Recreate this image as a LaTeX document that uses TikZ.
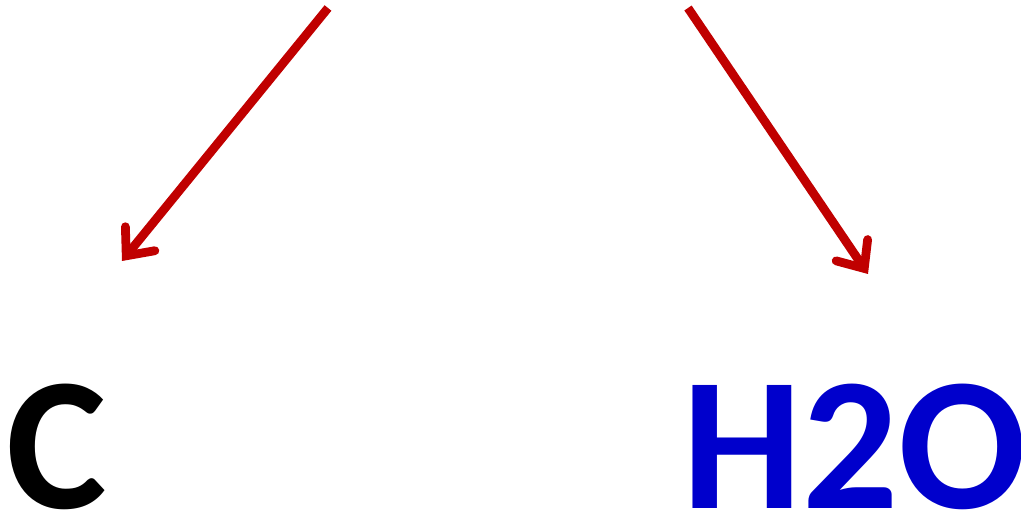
\documentclass[tikz,border=0pt]{standalone}
\usepackage{fontspec}
\setmainfont{Carlito}
\usetikzlibrary{arrows.meta, positioning}
\definecolor{arrowred}{RGB}{192,0,0}
\definecolor{waterblue}{RGB}{0,0,204}

\begin{document}
\begin{tikzpicture}[>={Straight Barb[length=0.22cm, width=0.38cm, line cap=round]},
      formula/.style={inner sep=0pt, anchor=base west, font=\fontsize{54}{54}\selectfont\bfseries},
      arr/.style={->, line width=2.5pt, arrowred}]
    \useasboundingbox (0,0) rectangle (10.21,5.11);
    \node[formula] (carbon) at (0.06,0.02) {C};
    \node[formula, text=waterblue] (water) at (6.82,0.02) {H2O};
    \coordinate (srcL) at (3.28,5.03);
    \coordinate (srcR) at (6.88,5.03);
    \coordinate (tipL) at (1.22,2.50);
    \coordinate (tipR) at (8.68,2.37);
    % arrows
    \draw[arr] (srcL) -- (tipL);
    \draw[arr] (srcR) -- (tipR);
  \end{tikzpicture}
\end{document}
